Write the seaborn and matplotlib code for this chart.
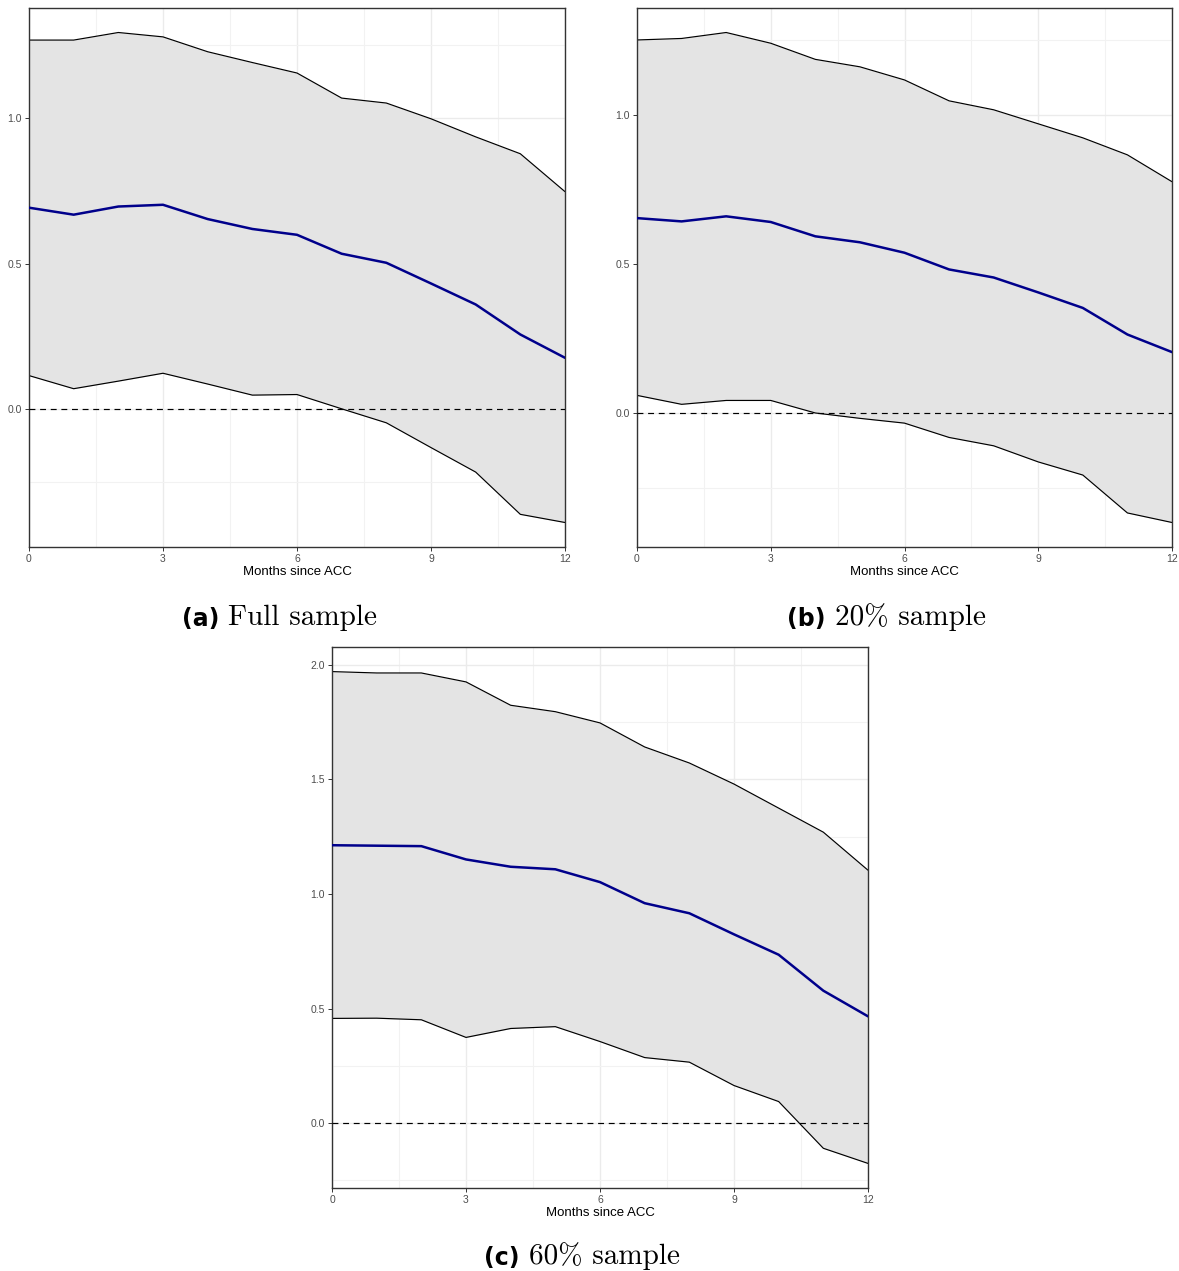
import numpy as np
import pandas as pd
import matplotlib
matplotlib.use("Agg")
import matplotlib.pyplot as plt
import seaborn as sns
from matplotlib.ticker import MultipleLocator, FormatStrFormatter

# Months since ACC
months = list(range(13))

# Full sample: point estimate and confidence band
full_mean = [0.692, 0.668, 0.696, 0.702, 0.653, 0.619, 0.599, 0.534, 0.503, 0.432, 0.360, 0.257, 0.177]
full_lower = [0.116, 0.071, 0.097, 0.124, 0.087, 0.049, 0.051, 0.002, -0.046, -0.131, -0.215, -0.360, -0.388]
full_upper = [1.267, 1.267, 1.293, 1.278, 1.227, 1.190, 1.154, 1.068, 1.051, 0.997, 0.935, 0.877, 0.747]

# 20% sample
s20_mean = [0.654, 0.643, 0.660, 0.641, 0.593, 0.573, 0.538, 0.482, 0.455, 0.405, 0.353, 0.264, 0.205]
s20_lower = [0.060, 0.030, 0.043, 0.043, 0.001, -0.017, -0.033, -0.081, -0.109, -0.163, -0.207, -0.334, -0.366]
s20_upper = [1.251, 1.256, 1.276, 1.240, 1.186, 1.161, 1.117, 1.047, 1.017, 0.970, 0.923, 0.866, 0.776]

# 60% sample
s60_mean = [1.213, 1.211, 1.209, 1.151, 1.119, 1.108, 1.052, 0.960, 0.916, 0.824, 0.735, 0.578, 0.466]
s60_lower = [0.457, 0.458, 0.451, 0.374, 0.413, 0.421, 0.356, 0.286, 0.266, 0.164, 0.094, -0.110, -0.176]
s60_upper = [1.971, 1.965, 1.965, 1.926, 1.824, 1.796, 1.747, 1.642, 1.572, 1.480, 1.375, 1.270, 1.104]

x_label = "Months since ACC"
captions = [("(a)", "Full sample"), ("(b)", "20% sample"), ("(c)", "60% sample")]

sns.set_theme(style="white")
plt.rcParams["font.family"] = ["Liberation Sans", "DejaVu Sans"]
plt.rcParams["text.color"] = "black"

W, H = 1179, 1271
fig = plt.figure(figsize=(W / 100, H / 100), dpi=100)


def px_rect(left, top, right, bottom):
    return [left / W, 1 - bottom / H, (right - left) / W, (bottom - top) / H]


def panel(rect, mean, lower, upper):
    ax = fig.add_axes(rect)
    df = pd.DataFrame({"month": months, "estimate": mean, "lower": lower, "upper": upper})

    ax.fill_between(df["month"], df["lower"], df["upper"], color="#e4e4e4", lw=0, zorder=1)
    sns.lineplot(data=df, x="month", y="upper", color="black", lw=0.85, ax=ax, zorder=2)
    sns.lineplot(data=df, x="month", y="lower", color="black", lw=0.85, ax=ax, zorder=2)
    ax.axhline(0, color="black", lw=0.85, ls=(0, (5, 4)), zorder=3)
    sns.lineplot(data=df, x="month", y="estimate", color="#00008B", lw=1.8, ax=ax, zorder=4)

    lo, hi = min(lower), max(upper)
    pad = 0.05 * (hi - lo)
    ax.set_xlim(0, 12)
    ax.set_ylim(lo - pad, hi + pad)

    ax.xaxis.set_major_locator(MultipleLocator(3))
    ax.xaxis.set_minor_locator(MultipleLocator(1.5))
    ax.yaxis.set_major_locator(MultipleLocator(0.5))
    ax.yaxis.set_minor_locator(MultipleLocator(0.25))
    ax.yaxis.set_major_formatter(FormatStrFormatter("%.1f"))

    ax.set_axisbelow(True)
    ax.grid(which="major", color="#ebebeb", lw=1.0)
    ax.grid(which="minor", color="#f2f2f2", lw=0.8)

    ax.tick_params(which="major", direction="out", length=2.8, width=0.7, color="#333333",
                   labelsize=7.5, labelcolor="#4d4d4d", pad=2.5, bottom=True, left=True)
    ax.tick_params(which="minor", length=0)
    for s in ax.spines.values():
        s.set_color("#333333")
        s.set_linewidth(1.0)

    ax.set_xlabel(x_label, fontsize=9.5, color="black", labelpad=1.5)
    ax.set_ylabel("")
    return ax


panel(px_rect(29, 8, 565, 547), full_mean, full_lower, full_upper)
panel(px_rect(637, 8, 1172, 547), s20_mean, s20_lower, s20_upper)
panel(px_rect(332, 647, 868, 1188), s60_mean, s60_lower, s60_upper)


def caption(x_px, base_px, tag, text):
    t = fig.text(x_px / W, 1 - base_px / H, tag, fontsize=17, fontweight="bold",
                 family=["DejaVu Sans"], va="baseline", ha="left", color="black")
    ann = plt.annotate(text, xy=(1, 0), xycoords=t, xytext=(6.5, 0), textcoords="offset points",
                       fontsize=21, family=["cmr10", "DejaVu Serif"], va="bottom", ha="left",
                       color="black", annotation_clip=False)
    return ann


caption(182, 626, *captions[0])
caption(787, 626, *captions[1])
caption(484, 1265, *captions[2])

fig.savefig("out.png", dpi=100)
